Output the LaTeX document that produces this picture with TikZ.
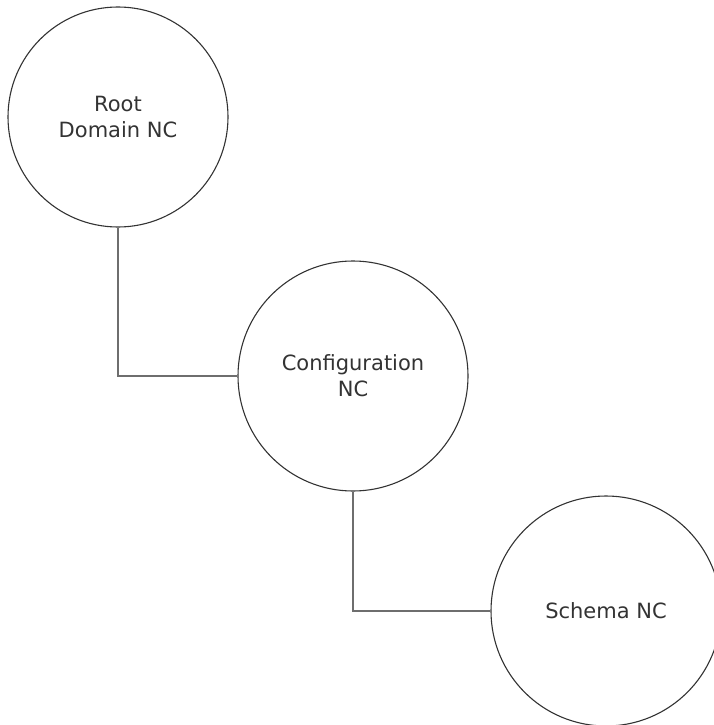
\documentclass[tikz,border=0pt]{standalone}
\usepackage{fontspec}
\setmainfont{DejaVu Sans}
\definecolor{ncline}{HTML}{333333}
\definecolor{linkline}{HTML}{6E6E6E}
\tikzset{
  ncbox/.style={circle, draw=ncline, line width=1.1pt, inner sep=0pt,
    align=center, text=ncline, font=\fontsize{21}{26}\selectfont},
  nclink/.style={draw=linkline, line width=2pt}
}
\begin{document}
\begin{tikzpicture}[x=1pt, y=-1pt]
  \useasboundingbox (0,0) rectangle (714,725);
  \node[ncbox, minimum size=220pt] (root) at (118,117) {Root\\Domain NC};
  \node[ncbox, minimum size=230pt] (config) at (353,376) {Configuration\\NC};
  \node[ncbox, minimum size=230pt] (schema) at (606,611) {Schema NC};
  \draw[nclink] (root.south) |- (config.west);
  \draw[nclink] (config.south) |- (schema.west);
\end{tikzpicture}
\end{document}
